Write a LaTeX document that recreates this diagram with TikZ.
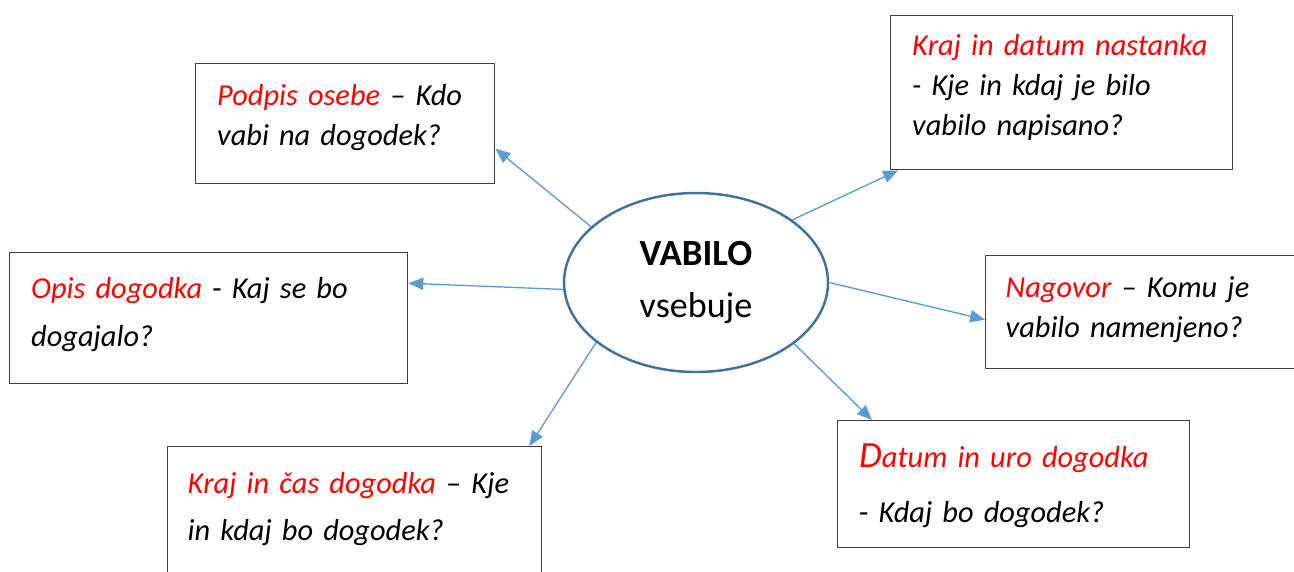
\documentclass[tikz,border=0pt]{standalone}
\usepackage{fontspec}
\setmainfont{Carlito}
\usetikzlibrary{arrows.meta, shapes.geometric}

\definecolor{ovalblue}{HTML}{41719C}
\definecolor{arrowblue}{HTML}{5B9BD5}
\definecolor{boxgray}{HTML}{3F3F3F}

\begin{document}
\begin{tikzpicture}[
box/.style = {draw=boxgray, line width=0.8pt, anchor=north west,
              inner ysep=0pt, inner xsep=0.43cm, align=left,
              font=\itshape\fontsize{17.3}{22.7}\selectfont},
oval/.style = {ellipse, draw=ovalblue, line width=1.4pt,
               minimum width=5.28cm, minimum height=3.58cm,
               inner sep=0pt, align=center,
               font=\fontsize{20.5}{30}\selectfont},
                    ]
%---
\useasboundingbox (0,0) rectangle (25.88,-11.42);

\node (vabilo) [oval] at (13.92,-5.65)
      {{\bfseries\fontsize{21}{30}\selectfont VABILO}\\ vsebuje};

\node (podpis) [box, text width=5.12cm, text height=0.84cm, text depth=1.56cm]
      at (3.90,-1.26)
      {{\color{red}Podpis osebe} -- Kdo\\ vabi na dogodek?};
\node (nastanek) [box, text width=5.98cm, text height=0.80cm, text depth=2.28cm]
      at (17.80,-0.30)
      {{\color{red}Kraj in datum nastanka}\\ - Kje in kdaj je bilo\\ vabilo napisano?};
\node (opis) [box, text width=7.10cm, text height=0.91cm, text depth=1.71cm]
      at (0.18,-5.04)
      {{\color{red}Opis dogodka} {\upshape -} Kaj se bo\\[5pt] dogajalo?};
\node (nagovor) [box, inner xsep=0.40cm, text width=5.60cm, text height=0.84cm, text depth=1.42cm]
      at (19.70,-5.10)
      {{\color{red}Nagovor} -- Komu je\\ vabilo namenjeno?};
\node (krajcas) [box, inner xsep=0.40cm, text width=6.68cm, text height=0.94cm, text depth=2.14cm]
      at (3.34,-8.92)
      {{\color{red}Kraj in čas dogodka} {\upshape --} Kje\\[4pt] in kdaj bo dogodek?};
\node (datum) [box, text width=6.18cm, text height=0.93cm, text depth=1.61cm]
      at (16.74,-8.40)
      {{\color{red}{\fontsize{21}{22}\selectfont D}atum in uro dogodka}\\[9pt]
       {\upshape -} Kdaj bo dogodek?};

% arrows
\path[-{Triangle[length=8.5pt,width=7pt]}, arrowblue, line width=0.75pt]
        (vabilo.152)  edge ([yshift=-0.50cm] podpis.east)
        (vabilo.33.5) edge ([xshift=0.16cm] nastanek.south west)
        (vabilo.183)  edge ([yshift=0.70cm] opis.east)
        (vabilo.0)    edge ([yshift=-0.15cm] nagovor.west)
        (vabilo.211)  edge ([xshift=-0.26cm] krajcas.north east)
        (vabilo.328)  edge ([xshift=0.70cm] datum.north west);
\end{tikzpicture}
\end{document}
